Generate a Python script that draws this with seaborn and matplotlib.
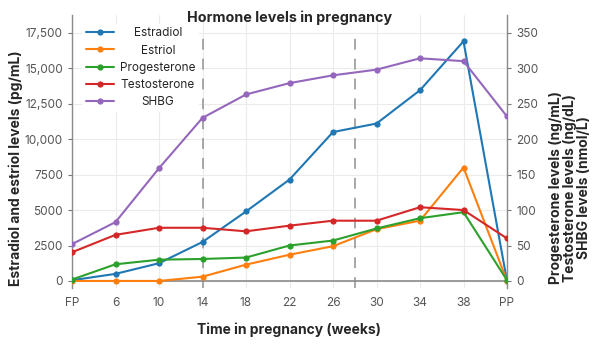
import matplotlib
matplotlib.use("Agg")
import matplotlib.pyplot as plt
import seaborn as sns
import pandas as pd
import numpy as np
from matplotlib.ticker import FixedLocator, FixedFormatter

weeks = ["FP", "6", "10", "14", "18", "22", "26", "30", "34", "38", "PP"]
estradiol = [50, 500, 1250, 2750, 4900, 7150, 10500, 11100, 13450, 16900, 0]
estriol = [0, 0, 0, 300, 1150, 1850, 2450, 3650, 4250, 8000, 0]
progesterone = [2, 23.5, 30, 31, 33, 50, 57, 74, 88.5, 97, 1]
testosterone = [40.5, 65, 75, 75, 70, 78, 85, 85, 104, 100, 60]
shbg = [52, 83, 159, 230, 263, 279, 290, 298, 314, 310, 232]

left_ticks = [0, 2500, 5000, 7500, 10000, 12500, 15000, 17500]
left_labels = ["0", "2500", "5000", "7500", "10,000", "12,500", "15,000", "17,500"]
right_ticks = [0, 50, 100, 150, 200, 250, 300, 350]
right_labels = ["0", "50", "100", "150", "200", "250", "300", "350"]

colors = {"Estradiol": "#1f77b4", "Estriol": "#ff7f0e", "Progesterone": "#2ca02c",
          "Testosterone": "#d62728", "SHBG": "#9467bd"}

pos = list(range(len(weeks)))
left_df = pd.DataFrame({
    "pos": pos * 2,
    "value": estradiol + estriol,
    "series": ["Estradiol"] * len(pos) + ["Estriol"] * len(pos),
})
right_df = pd.DataFrame({
    "pos": pos * 3,
    "value": progesterone + testosterone + shbg,
    "series": ["Progesterone"] * len(pos) + ["Testosterone"] * len(pos) + ["SHBG"] * len(pos),
})

sns.set_style("white")
plt.rcParams["font.family"] = ["Inter", "DejaVu Sans"]

fig = plt.figure(figsize=(6, 3.5), dpi=100)
ax = fig.add_axes([0.12, 0.177, 0.725, 0.78])
ax2 = ax.twinx()

grid_c = "#ebebeb"
tick_c = "#555555"

line_kw = dict(marker="o", markersize=4.5, markeredgewidth=0, linewidth=1.5, sort=False)
sns.lineplot(data=left_df, x="pos", y="value", hue="series",
             palette=[colors["Estradiol"], colors["Estriol"]], ax=ax, zorder=3, **line_kw)
sns.lineplot(data=right_df, x="pos", y="value", hue="series",
             palette=[colors["Progesterone"], colors["Testosterone"], colors["SHBG"]],
             ax=ax2, zorder=3, **line_kw)

h1, l1 = ax.get_legend_handles_labels()
h2, l2 = ax2.get_legend_handles_labels()
if ax.get_legend():
    ax.get_legend().remove()
if ax2.get_legend():
    ax2.get_legend().remove()

ax.set_xlim(0, 10)
ax.set_ylim(-500, 18750)
ax2.set_ylim(-10, 375)

ax.xaxis.set_major_locator(FixedLocator(pos))
ax.xaxis.set_major_formatter(FixedFormatter(weeks))
ax.yaxis.set_major_locator(FixedLocator(left_ticks))
ax.yaxis.set_major_formatter(FixedFormatter(left_labels))
ax2.yaxis.set_major_locator(FixedLocator(right_ticks))
ax2.yaxis.set_major_formatter(FixedFormatter(right_labels))

for a in (ax, ax2):
    a.set_xlabel("")
    a.set_ylabel("")
    a.tick_params(axis="both", labelsize=8.5, colors="#777777", labelcolor=tick_c, length=3, width=0.8)
    for s in ("top", "bottom"):
        a.spines[s].set_visible(False)
ax.spines["right"].set_visible(False)
ax2.spines["left"].set_visible(False)
ax.spines["left"].set_color("#8a8a8a")
ax2.spines["right"].set_color("#8a8a8a")
ax.spines["left"].set_linewidth(1.0)
ax2.spines["right"].set_linewidth(1.0)

ax.grid(True, color=grid_c, linewidth=0.8, zorder=0)
ax.set_axisbelow(True)
ax.axhline(0, color="#8a8a8a", linewidth=1.2, zorder=2)

ax.vlines([3, 6.5], -500, 17600, colors="#a0a0a0", linestyles=(0, (6, 5)), linewidth=1.3, zorder=1)

fig.text(0.482, 0.95, "Hormone levels in pregnancy", ha="center", va="center",
         fontsize=10.3, fontweight="bold")
fig.text(0.482, 0.057, "Time in pregnancy (weeks)", ha="center", va="center",
         fontsize=10, fontweight="bold")
fig.text(0.027, 0.52, "Estradiol and estriol levels (pg/mL)", ha="center", va="center",
         rotation=90, fontsize=10, fontweight="bold")
fig.text(0.95, 0.463, "Progesterone levels (ng/mL)\nTestosterone levels (ng/dL)\nSHBG levels (nmol/L)",
         ha="center", va="center", rotation=90, fontsize=10, fontweight="bold",
         multialignment="center", linespacing=1.0)

leg = ax2.legend(h1 + h2, l1 + l2, loc="upper left", bbox_to_anchor=(0.01, 0.99),
                 frameon=True, fontsize=8.5, handlelength=2.4, labelspacing=0.45,
                 borderpad=0.3, handletextpad=0.5)
leg.get_frame().set_edgecolor("none")
leg.get_frame().set_facecolor("white")
leg.get_frame().set_alpha(1.0)
leg.set_zorder(10)

fig.canvas.draw()
renderer = fig.canvas.get_renderer()
texts = leg.get_texts()
widths = [t.get_window_extent(renderer).width for t in texts]
mw = max(widths)
for t, w in zip(texts, widths):
    t.set_position(((mw - w) / 2, 0))

fig.savefig("out.png", dpi=100)
